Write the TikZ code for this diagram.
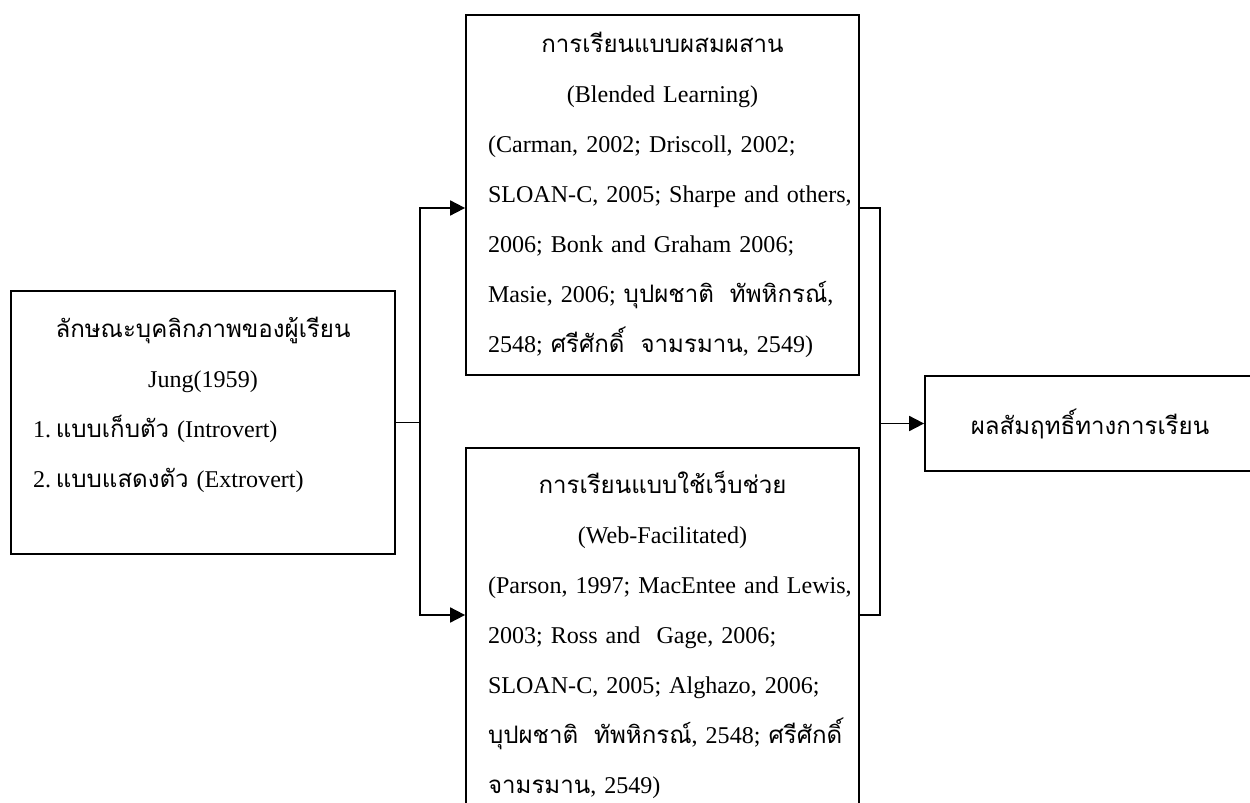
\documentclass[tikz,border=0pt]{standalone}
\usepackage{fontspec}
\setmainfont{Liberation Serif}
\newfontfamily\thaifont[Script=Thai]{Loma}
\newcommand{\tha}[1]{{\thaifont #1}}
\usetikzlibrary{arrows.meta}
\hfuzz=2cm
\hbadness=10000
\tikzset{box/.style={rectangle,draw,line width=1pt,inner xsep=0.44cm,align=left,font=\fontsize{13.7}{28.45}\selectfont}}

\begin{document}
\begin{tikzpicture}[>={Triangle[length=0.3cm,width=0.3cm]},line width=1pt]
    \useasboundingbox (0,0) rectangle (25,16.04);
    \clip (0,0) rectangle (25,16.04);

    \node[box,minimum width=7.68cm,minimum height=5.26cm,text width=6.8cm] (learner)at (4.06,7.59) {%
        {\centering \tha{ลักษณะบุคลิกภาพของผู้เรียน}\\ Jung(1959)\par}
        1.\hspace{0.2em}\tha{แบบเก็บตัว} (Introvert)\\
        2.\hspace{0.2em}\tha{แบบแสดงตัว} (Extrovert)\\[-0.5cm] \strut};
    \node[box,minimum width=7.86cm,minimum height=7.2cm,text width=6.98cm] (blended)at (13.25,12.14) {%
        {\centering \tha{การเรียนแบบผสมผสาน}\\ (Blended Learning)\par}
        \mbox{(Carman, 2002; Driscoll, 2002;}\\
        \mbox{SLOAN-C, 2005; Sharpe and others,}\\
        \mbox{2006; Bonk and Graham 2006;}\\
        \mbox{Masie, 2006; \tha{บุปผชาติ\ \ ทัพหิกรณ์},}\\
        \mbox{2548; \tha{ศรีศักดิ์\ \ จามรมาน}, 2549)}};
    \node[box,minimum width=7.86cm,minimum height=7.48cm,text width=6.98cm] (web)at (13.25,3.34) {%
        {\centering \tha{การเรียนแบบใช้เว็บช่วย}\\ (Web-Facilitated)\par}
        \mbox{(Parson, 1997; MacEntee and Lewis,}\\
        \mbox{2003; Ross and\ \ Gage, 2006;}\\
        \mbox{SLOAN-C, 2005; Alghazo, 2006;}\\
        \mbox{\tha{บุปผชาติ\ \ ทัพหิกรณ์}, 2548; \tha{ศรีศักดิ์}}\\
        \mbox{\tha{จามรมาน}, 2549)}};
    \node[box,minimum width=6.6cm,minimum height=1.9cm] (result)at (21.8,7.57) {\tha{ผลสัมฤทธิ์ทางการเรียน}};

    \path (learner.east) ++(0.48,0) coordinate (jl);
    \path (result.west) ++(-0.88,0) coordinate (jr);

    \draw [] (learner.east) -- (jl);
    \draw [->] (jl) |- (blended.west |- 0,11.88);
    \draw [->] (jl) |- (web.west |- 0,3.74);
    \draw [] (blended.east |- 0,11.88) -| (jr);
    \draw [] (web.east |- 0,3.74) -| (jr);
    \draw [->] (jr) -- (result.west);
\end{tikzpicture}
\end{document}
